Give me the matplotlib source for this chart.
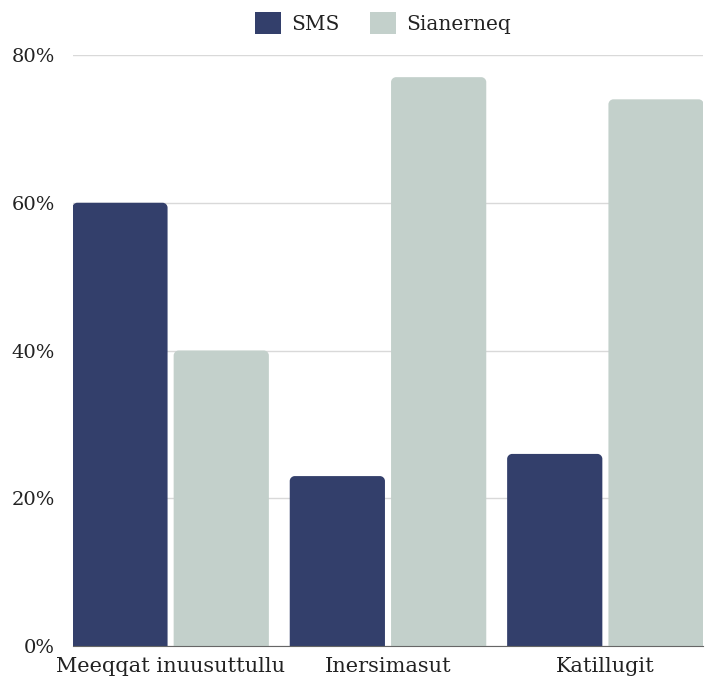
import matplotlib
matplotlib.use("Agg")
import matplotlib.pyplot as plt
from matplotlib.path import Path
from matplotlib.patches import PathPatch, Patch
import numpy as np

categories = ["Meeqqat inuusuttullu", "Inersimasut", "Katillugit"]
sms = [60, 23, 26]
sianerneq = [40, 77, 74]
series_names = ["SMS", "Sianerneq"]
yticks = [0, 20, 40, 60, 80]
ytick_labels = ["0%", "20%", "40%", "60%", "80%"]

c_sms = "#333F6B"
c_sia = "#C3D0CB"

fig = plt.figure(figsize=(7.14, 6.84), dpi=100)
ax = fig.add_axes([73/714, 38/684, 630/714, 591/684])

x = np.arange(len(categories))
bw = 0.438
off = 0.233
b1 = ax.bar(x - off, sms, bw, color=c_sms, zorder=3)
b2 = ax.bar(x + off, sianerneq, bw, color=c_sia, zorder=3)

ax.set_xlim(-0.449, 2.449)
ax.set_ylim(0, 80)

# rounded top corners
px_per_x = 630 / (2.449 + 0.449)
px_per_y = 591 / 80
r_px = 5
rx = r_px / px_per_x
ry = r_px / px_per_y
k = 0.5523
for bars in (b1, b2):
    for rect in bars:
        x0, y0 = rect.get_x(), rect.get_y()
        w, h = rect.get_width(), rect.get_height()
        x1, y1 = x0 + w, y0 + h
        verts = [
            (x0, y0), (x0, y1 - ry),
            (x0, y1 - ry + k * ry), (x0 + rx - k * rx, y1), (x0 + rx, y1),
            (x1 - rx, y1),
            (x1 - rx + k * rx, y1), (x1, y1 - ry + k * ry), (x1, y1 - ry),
            (x1, y0), (x0, y0),
        ]
        codes = [Path.MOVETO, Path.LINETO,
                 Path.CURVE4, Path.CURVE4, Path.CURVE4,
                 Path.LINETO,
                 Path.CURVE4, Path.CURVE4, Path.CURVE4,
                 Path.LINETO, Path.CLOSEPOLY]
        pp = PathPatch(Path(verts, codes), facecolor=rect.get_facecolor(),
                       edgecolor="none", zorder=3)
        ax.add_patch(pp)
        rect.set_visible(False)

ax.set_yticks(yticks)
ax.set_yticklabels(ytick_labels)
ax.set_xticks(x)
ax.set_xticklabels(categories)
ax.grid(axis="y", color="#d9d9d9", linewidth=1, zorder=0)
for s in ["top", "right", "left"]:
    ax.spines[s].set_visible(False)
ax.spines["bottom"].set_color("#666666")
ax.spines["bottom"].set_zorder(4)
ax.tick_params(axis="both", length=0)
ax.tick_params(axis="y", pad=13)
ax.tick_params(axis="x", pad=8)
for lab in ax.get_yticklabels():
    lab.set_fontfamily("DejaVu Serif")
    lab.set_fontsize(14)
    lab.set_color("#222222")
for lab in ax.get_xticklabels():
    lab.set_fontfamily("DejaVu Serif")
    lab.set_fontsize(15)
    lab.set_color("#222222")

handles = [Patch(facecolor=c_sms, edgecolor="none"),
           Patch(facecolor=c_sia, edgecolor="none")]
leg = fig.legend(handles, series_names, loc="center", bbox_to_anchor=(383/714, 1 - 23/684),
           ncol=2, frameon=False, prop={"family": "DejaVu Serif", "size": 14.5},
           handlelength=1.3, handleheight=1.3, handletextpad=0.5, columnspacing=1.5,
           borderpad=0)
for t in leg.get_texts():
    t.set_color("#222222")

fig.savefig("out.png", dpi=100)
